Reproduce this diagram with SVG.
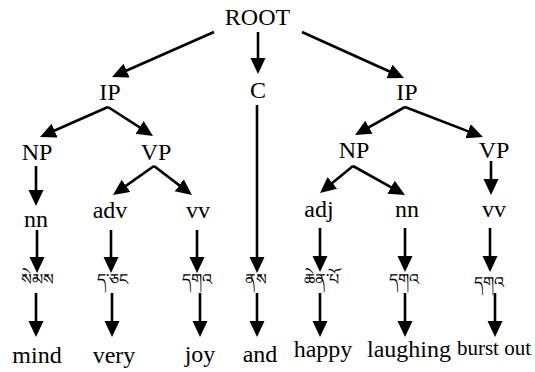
<svg xmlns="http://www.w3.org/2000/svg" width="535" height="372" viewBox="0 0 535 372">
<style>
.t{font-size:24px;fill:#000;text-anchor:middle}
.b{font-size:16px;fill:#000;text-anchor:middle}
#edges line{stroke:#000;stroke-width:2.6;marker-end:url(#ah)}
</style>
<defs>
<marker id="ah" markerUnits="userSpaceOnUse" markerWidth="17" markerHeight="16" refX="8" refY="7.5" orient="auto">
<path d="M0,0 L16,7.5 L0,15 z" fill="#000"/>
</marker>
</defs>
<rect width="535" height="372" fill="#fff"/>
<g id="edges">
<line x1="214" y1="32" x2="119.3" y2="73.8"/>
<line x1="258" y1="32" x2="258" y2="66"/>
<line x1="302" y1="32" x2="396.7" y2="74.7"/>
<line x1="108" y1="107" x2="47.3" y2="133.8"/>
<line x1="108" y1="107" x2="146.3" y2="131.7"/>
<line x1="36" y1="166" x2="36" y2="198"/>
<line x1="154" y1="166" x2="119.5" y2="190.4"/>
<line x1="154" y1="166" x2="185.6" y2="190.1"/>
<line x1="405" y1="107" x2="362" y2="131.1"/>
<line x1="405" y1="107" x2="475.5" y2="134.1"/>
<line x1="353" y1="166" x2="326.2" y2="187.9"/>
<line x1="353" y1="166" x2="398" y2="191.1"/>
<line x1="491" y1="161" x2="491" y2="187"/>
<line x1="37" y1="230" x2="37" y2="265"/>
<line x1="111" y1="230" x2="111" y2="265"/>
<line x1="197" y1="230" x2="197" y2="265"/>
<line x1="257" y1="105" x2="257" y2="265"/>
<line x1="320" y1="228" x2="320" y2="264"/>
<line x1="405" y1="228" x2="405" y2="264"/>
<line x1="490" y1="228" x2="490" y2="264"/>
<line x1="36" y1="293" x2="36" y2="329"/>
<line x1="112" y1="293" x2="112" y2="329"/>
<line x1="200" y1="293" x2="200" y2="329"/>
<line x1="257" y1="293" x2="257" y2="329"/>
<line x1="320" y1="293" x2="320" y2="329"/>
<line x1="405" y1="293" x2="405" y2="329"/>
<line x1="495" y1="293" x2="495" y2="329"/>
</g>
<g id="root"><text class="t" style="font-family:'Liberation Serif',serif" x="257.5" y="25">ROOT</text></g>
<g id="ip1"><text class="t" style="font-family:'Liberation Serif',serif" x="110" y="100">IP</text></g>
<g id="c"><text class="t" style="font-family:'Liberation Serif',serif" x="258" y="98">C</text></g>
<g id="ip2"><text class="t" style="font-family:'Liberation Serif',serif" x="407" y="100">IP</text></g>
<g id="np1"><text class="t" style="font-family:'Liberation Serif',serif" x="37" y="160">NP</text></g>
<g id="vp1"><text class="t" style="font-family:'Liberation Serif',serif" x="156" y="160">VP</text></g>
<g id="np2"><text class="t" style="font-family:'Liberation Serif',serif" x="354" y="158">NP</text></g>
<g id="vp2"><text class="t" style="font-family:'Liberation Serif',serif" x="494" y="158">VP</text></g>
<g id="nn1"><text class="t" style="font-family:'Liberation Serif',serif" x="36" y="227">nn</text></g>
<g id="adv"><text class="t" style="font-family:'Liberation Serif',serif" x="110" y="218">adv</text></g>
<g id="vv1"><text class="t" style="font-family:'Liberation Serif',serif" x="198" y="218">vv</text></g>
<g id="adj"><text class="t" style="font-family:'Liberation Serif',serif" x="319" y="217">adj</text></g>
<g id="nn2"><text class="t" style="font-family:'Liberation Serif',serif" x="407" y="217">nn</text></g>
<g id="vv2"><text class="t" style="font-family:'Liberation Serif',serif" x="494" y="217">vv</text></g>
<g id="w1"><text class="b" style="font-family:'Liberation Serif',serif" x="37" y="285">&#xF66;&#xF7A;&#xF58;&#xF66;</text></g>
<g id="w2"><text class="b" style="font-family:'Liberation Serif',serif" x="112" y="285">&#xF51;&#xF0B;&#xF45;&#xF44;</text></g>
<g id="w3"><text class="b" style="font-family:'Liberation Serif',serif" x="197" y="285">&#xF51;&#xF42;&#xF60;</text></g>
<g id="w4"><text class="b" style="font-family:'Liberation Serif',serif" x="256" y="285">&#xF53;&#xF66;</text></g>
<g id="w5"><text class="b" style="font-family:'Liberation Serif',serif" x="321" y="285">&#xF46;&#xF7A;&#xF53;&#xF0B;&#xF54;&#xF7C;</text></g>
<g id="w6"><text class="b" style="font-family:'Liberation Serif',serif" x="404" y="285">&#xF51;&#xF42;&#xF60;</text></g>
<g id="w7"><text class="b" style="font-family:'Liberation Serif',serif" x="489" y="288">&#xF51;&#xF42;&#xF60;</text></g>
<g id="e1"><text class="t" style="font-family:'Liberation Serif',serif" x="37" y="363">mind</text></g>
<g id="e2"><text class="t" style="font-family:'Liberation Serif',serif" x="114" y="363">very</text></g>
<g id="e3"><text class="t" style="font-family:'Liberation Serif',serif" x="200" y="362">joy</text></g>
<g id="e4"><text class="t" style="font-family:'Liberation Serif',serif" x="260" y="362">and</text></g>
<g id="e5"><text class="t" style="font-family:'Liberation Serif',serif" x="323" y="357">happy</text></g>
<g id="e6"><text class="t" style="font-family:'Liberation Serif',serif" x="409" y="357">laughing</text></g>
<g id="e7"><text class="t" style="font-family:'Liberation Serif',serif;font-size:21px" x="494" y="355">burst out</text></g>
</svg>
